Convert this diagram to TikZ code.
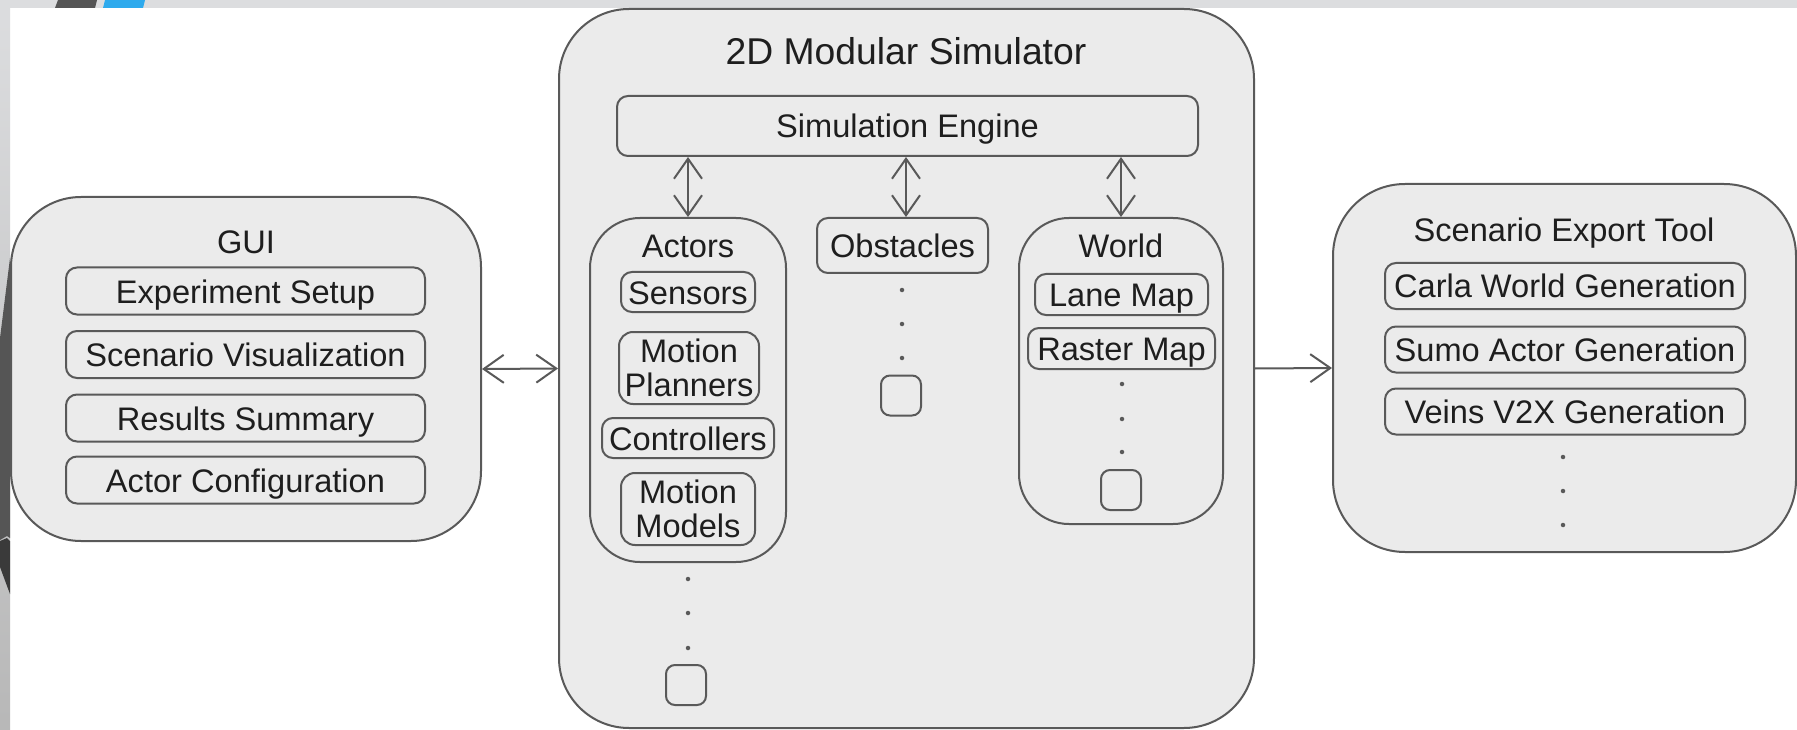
\documentclass[tikz,border=0pt]{standalone}
\usepackage{fontspec}
\setmainfont{Liberation Sans}
\usetikzlibrary{arrows.meta}

\definecolor{edgec}{HTML}{595959}
\definecolor{fillc}{HTML}{EBEBEB}
\definecolor{txtc}{HTML}{1E1E1E}
\definecolor{stripc}{HTML}{DCDDDF}
\definecolor{darkc}{HTML}{555555}
\definecolor{darkerc}{HTML}{3A3A3A}
\definecolor{bluec}{HTML}{2EAAED}

\newcommand\bodyfont{\fontsize{32.6pt}{34pt}\selectfont}
\newcommand\headfont{\fontsize{37.3pt}{40pt}\selectfont}

\tikzset{
  base/.style={font=\bodyfont, text=txtc, inner sep=0pt},
  panel/.style={base, draw=edgec, fill=fillc, line width=2pt, rounded corners=#1},
  group/.style={base, draw=edgec, line width=2pt, rounded corners=50pt},
  item/.style={base, draw=edgec, line width=2pt, rounded corners=11pt,
               text height=27pt, text depth=3pt},
  itemtwo/.style={base, draw=edgec, line width=2pt, rounded corners=14pt,
                  align=center},
  lbl/.style={base, text height=27pt, text depth=3pt},
  headlbl/.style={base, font=\headfont, text height=30pt, text depth=4pt},
  slot/.style={draw=edgec, line width=2pt, rounded corners=9pt,
               minimum width=40pt, minimum height=40pt, inner sep=0pt},
  dotc/.style={fill=edgec, circle, inner sep=0pt, minimum size=4.5pt},
  barb/.tip={Straight Barb[length=20pt, width=28pt]},
  biarrow/.style={draw=edgec, line width=2pt, barb-barb},
  uniarrow/.style={draw=edgec, line width=2pt, -barb},
}

\begin{document}
\begin{tikzpicture}[x=1pt, y=-1pt]
\useasboundingbox (0,0) rectangle (1797,730);
\fill[white] (0,0) rectangle (1797,730);

% surrounding screen frame
\fill[stripc] (0,0) rectangle (1797,8);
\shade[top color=stripc, bottom color=black!28] (0,0) rectangle (10,730);
\fill[darkc] (55,8) -- (58,0) -- (97,0) -- (95,8) -- cycle;
\fill[bluec] (103,8) -- (105,0) -- (145,0) -- (143,8) -- cycle;
\fill[darkc] (10,258) -- (10,538) -- (7,536) -- (0,540) -- (0,338) -- cycle;
\fill[darkerc] (0,541) -- (7,538) -- (10,541) -- (10,594) -- (0,567) -- cycle;

% GUI
\node[panel=70pt, minimum width=470pt, minimum height=344pt] (gui) at (246,369) {};
\node[lbl] (guititle) at (246,242) {GUI};
\node[item, minimum width=359pt, minimum height=47pt] (setup) at (245.5,291) {Experiment Setup};
\node[item, minimum width=359pt, minimum height=47pt] (vis) at (245.5,354.5) {Scenario Visualization};
\node[item, minimum width=359pt, minimum height=47pt] (summary) at (245.5,418) {Results Summary};
\node[item, minimum width=359pt, minimum height=47pt] (config) at (245.5,480) {Actor Configuration};

% 2D modular simulator
\node[panel=70pt, minimum width=695pt, minimum height=719pt] (sim) at (906.5,368.5) {};
\node[headlbl] (simtitle) at (906,52) {2D Modular Simulator};
\node[item, minimum width=581pt, minimum height=60pt] (engine) at (907.5,126) {Simulation Engine};

% actors
\node[group, minimum width=196pt, minimum height=344pt] (actors) at (688,390) {};
\node[lbl] (actorstitle) at (688,246) {Actors};
\node[item, minimum width=134pt, minimum height=40pt] (sensors) at (688,292) {Sensors};
\node[itemtwo, minimum width=140pt, minimum height=72pt] (planners) at (689,368) {Motion\\Planners};
\node[item, minimum width=172pt, minimum height=40pt] (controllers) at (688,438) {Controllers};
\node[itemtwo, minimum width=134pt, minimum height=72pt] (models) at (688,509) {Motion\\Models};
\node[dotc] (ad1) at (688,579) {};
\node[dotc] (ad2) at (688,613) {};
\node[dotc] (ad3) at (688,648) {};
\node[slot] (aslot) at (686,685) {};

% obstacles
\node[item, minimum width=171pt, minimum height=55pt] (obst) at (902.5,245.5) {Obstacles};
\node[dotc] (od1) at (902,290) {};
\node[dotc] (od2) at (902,324) {};
\node[dotc] (od3) at (902,358) {};
\node[slot] (oslot) at (901,395.5) {};

% world
\node[group, minimum width=204pt, minimum height=306pt] (world) at (1121,371) {};
\node[lbl] (worldtitle) at (1121,246) {World};
\node[item, minimum width=173pt, minimum height=41pt] (lane) at (1121.5,294.5) {Lane Map};
\node[item, minimum width=187pt, minimum height=41pt] (raster) at (1121.5,348.5) {Raster Map};
\node[dotc] (wd1) at (1122,384) {};
\node[dotc] (wd2) at (1122,419) {};
\node[dotc] (wd3) at (1122,452) {};
\node[slot] (wslot) at (1121,490) {};

% scenario export tool
\node[panel=72pt, minimum width=463pt, minimum height=368pt] (export) at (1564.5,368) {};
\node[lbl] (exporttitle) at (1564,230) {Scenario Export Tool};
\node[item, minimum width=360pt, minimum height=46pt] (carla) at (1565,286) {Carla World Generation};
\node[item, minimum width=360pt, minimum height=46pt] (sumo) at (1565,349.5) {Sumo Actor Generation};
\node[item, minimum width=360pt, minimum height=46pt] (veins) at (1565,411.5) {Veins V2X Generation};
\node[dotc] (ed1) at (1563,457) {};
\node[dotc] (ed2) at (1563,491) {};
\node[dotc] (ed3) at (1563,525) {};

% connectors
\draw[biarrow] (gui.east) -- (sim.west);
\draw[uniarrow] (sim.east) -- (export.west);
\draw[biarrow] (actors.north |- engine.south) -- (actors.north);
\draw[biarrow] ([xshift=3.5pt]obst.north |- engine.south) -- ([xshift=3.5pt]obst.north);
\draw[biarrow] (world.north |- engine.south) -- (world.north);
\end{tikzpicture}
\end{document}
